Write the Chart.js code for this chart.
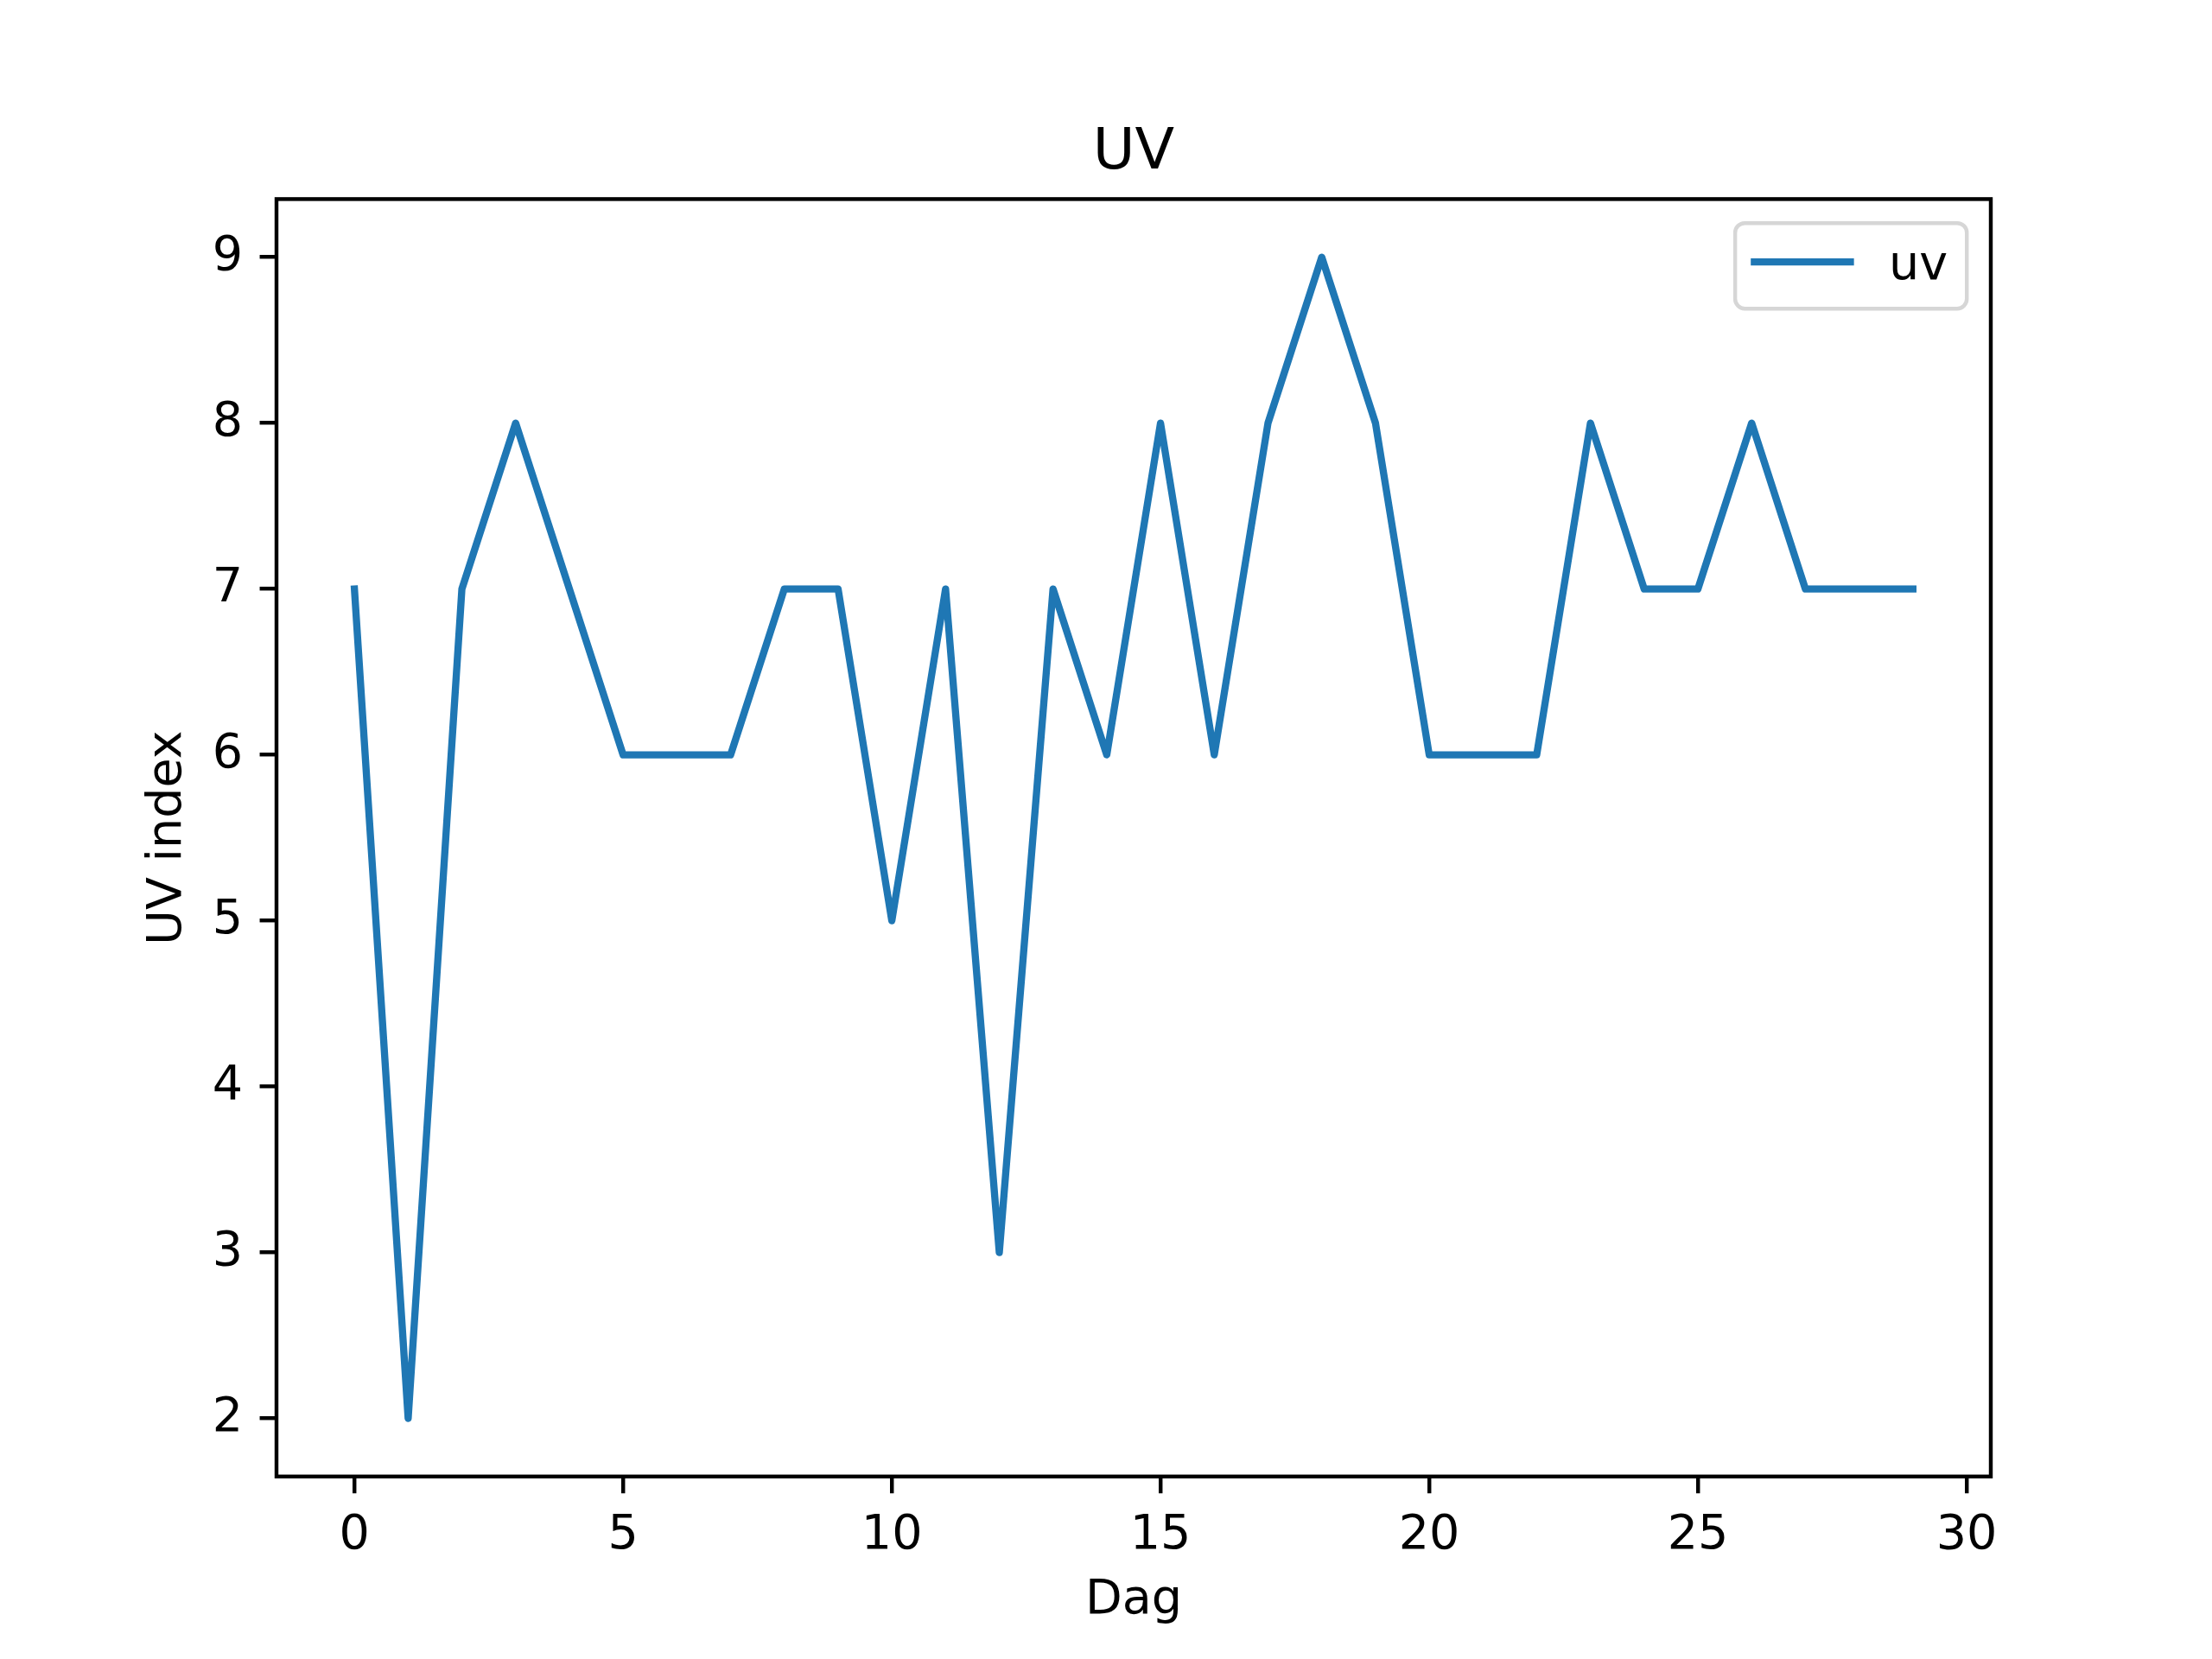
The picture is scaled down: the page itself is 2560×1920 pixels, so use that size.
<!DOCTYPE html>
<html>
<head>
<meta charset="utf-8">
<style>
  html, body { margin: 0; padding: 0; background: #ffffff; }
  canvas { display: block; }
</style>
<script src="https://cdn.jsdelivr.net/npm/chart.js@4.4.1/dist/chart.umd.min.js"></script>
</head>
<body>
<canvas id="c" width="2560" height="1920" style="width:2560px;height:1920px"></canvas>
<script>
// ---- data ----
const days = [0, 1, 2, 3, 4, 5, 6, 7, 8, 9, 10, 11, 12, 13, 14, 15, 16, 17, 18, 19, 20, 21, 22, 23, 24, 25, 26, 27, 28, 29];
const uvValues = [7, 2, 7, 8, 7, 6, 6, 6, 7, 7, 5, 7, 3, 7, 6, 8, 6, 8, 9, 8, 6, 6, 6, 8, 7, 7, 8, 7, 7, 7];
const xTickValues = [0, 5, 10, 15, 20, 25, 30];
const yTickValues = [2, 3, 4, 5, 6, 7, 8, 9];
const seriesLabel = 'uv';
const chartTitle = 'UV';
const xAxisTitle = 'Dag';
const yAxisTitle = 'UV index';

const FONT = 'DejaVu Sans';
const PT = 400 / 72;            // matplotlib points -> pixels at 400 dpi
const FS = 10 * PT;             // 10pt font
const LINE_COLOR = '#1f77b4';

const points = days.map((d, i) => ({ x: d, y: uvValues[i] }));

// frame (all four spines) + legend inside the axes, matplotlib style
const framePlugin = {
  id: 'framePlugin',
  afterDatasetsDraw(chart) {
    const { ctx, chartArea: a } = chart;
    ctx.save();
    ctx.strokeStyle = '#000000';
    ctx.lineWidth = 0.8 * PT;
    ctx.lineJoin = 'miter';
    ctx.strokeRect(a.left, a.top, a.right - a.left, a.bottom - a.top);

    // legend (upper right)
    const pad = 0.5 * FS;          // borderaxespad
    const bpad = 0.4 * FS;         // borderpad
    const handleLen = 2.0 * FS;
    const textPad = 0.8 * FS;
    const label = chart.data.datasets[0].label;
    ctx.font = FS + 'px "' + FONT + '"';
    const tw = ctx.measureText(label).width;
    const boxW = bpad + handleLen + textPad + tw + bpad;
    const boxH = 99;
    const bx = a.right - pad - boxW;
    const by = a.top + pad;
    const r = 0.2 * FS;
    ctx.beginPath();
    ctx.roundRect(bx, by, boxW, boxH, r);
    ctx.fillStyle = 'rgba(255,255,255,0.8)';
    ctx.fill();
    ctx.strokeStyle = '#d6d6d6';
    ctx.lineWidth = 0.8 * PT;
    ctx.stroke();
    const ly = by + 45;
    ctx.beginPath();
    ctx.moveTo(bx + bpad, ly);
    ctx.lineTo(bx + bpad + handleLen, ly);
    ctx.strokeStyle = LINE_COLOR;
    ctx.lineWidth = 1.5 * PT;
    ctx.lineCap = 'square';
    ctx.stroke();
    ctx.fillStyle = '#000000';
    ctx.textAlign = 'left';
    ctx.textBaseline = 'alphabetic';
    ctx.fillText(label, bx + bpad + handleLen + textPad, by + 65);
    ctx.restore();
  }
};

new Chart(document.getElementById('c'), {
  type: 'line',
  data: {
    datasets: [{
      label: seriesLabel,
      data: points,
      borderColor: LINE_COLOR,
      backgroundColor: LINE_COLOR,
      borderWidth: 1.5 * PT,
      pointRadius: 0,
      pointHoverRadius: 0,
      tension: 0,
      fill: false,
      borderJoinStyle: 'round',
      borderCapStyle: 'square'
    }]
  },
  options: {
    responsive: false,
    maintainAspectRatio: false,
    devicePixelRatio: 1,
    animation: false,
    events: [],
    layout: { padding: { top: 0, left: 0, right: 256, bottom: 0 } },
    plugins: {
      legend: { display: false },
      tooltip: { enabled: false },
      title: {
        display: true,
        fullSize: false,
        text: chartTitle,
        color: '#000000',
        font: { family: FONT, size: 12 * PT, weight: 'normal', lineHeight: 1.2 },
        padding: { top: 138, bottom: 12.4 }
      }
    },
    scales: {
      x: {
        type: 'linear',
        min: -1.45,
        max: 30.45,
        afterBuildTicks(scale) { scale.ticks = xTickValues.map(v => ({ value: v })); },
        afterFit(scale) { scale.height = 1920 - 1708.8; },
        grid: {
          display: true,
          drawOnChartArea: false,
          drawTicks: true,
          tickLength: 3.5 * PT,
          tickWidth: 0.8 * PT,
          tickColor: '#000000',
          color: '#000000',
          lineWidth: 0.8 * PT
        },
        border: { display: false },
        ticks: {
          color: '#000000',
          font: { family: FONT, size: FS },
          padding: 16,
          maxRotation: 0,
          autoSkip: false,
          callback: v => String(v)
        },
        title: {
          display: true,
          text: xAxisTitle,
          color: '#000000',
          font: { family: FONT, size: FS },
          padding: { top: 0, bottom: 33.6 }
        }
      },
      y: {
        type: 'linear',
        min: 1.65,
        max: 9.35,
        afterBuildTicks(scale) { scale.ticks = yTickValues.map(v => ({ value: v })); },
        afterFit(scale) { scale.width = 320; },
        grid: {
          display: true,
          drawOnChartArea: false,
          drawTicks: true,
          tickLength: 3.5 * PT,
          tickWidth: 0.8 * PT,
          tickColor: '#000000',
          color: '#000000',
          lineWidth: 0.8 * PT
        },
        border: { display: false },
        ticks: {
          color: '#000000',
          font: { family: FONT, size: FS },
          padding: 3.5 * PT,
          autoSkip: false,
          callback: v => String(v)
        },
        title: {
          display: true,
          text: yAxisTitle,
          color: '#000000',
          font: { family: FONT, size: FS },
          padding: { top: 161.6, bottom: 0 }
        }
      }
    }
  },
  plugins: [framePlugin]
});
</script>
</body>
</html>
